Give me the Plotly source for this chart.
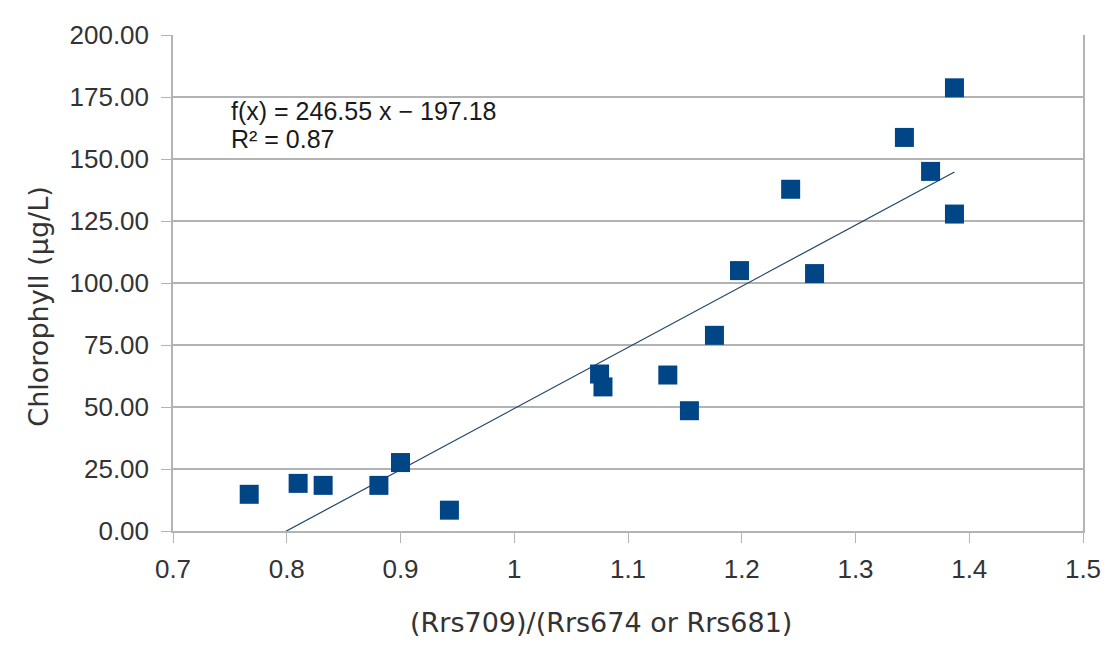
import plotly.graph_objects as go
import numpy as np

ratio = [0.767, 0.810, 0.832, 0.881, 0.900, 0.943, 1.075, 1.078, 1.135, 1.154,
         1.176, 1.198, 1.243, 1.264, 1.343, 1.366, 1.387, 1.387]
chl = [14.8, 19.2, 18.4, 18.4, 27.6, 8.4, 63.3, 58.1, 62.9, 48.5,
       78.9, 105.0, 137.8, 103.8, 158.7, 145.0, 178.7, 127.8]
slope = 246.55
intercept = -197.18
r2 = 0.87
x_ticks = [0.7, 0.8, 0.9, 1.0, 1.1, 1.2, 1.3, 1.4, 1.5]
x_tick_text = ["0.7", "0.8", "0.9", "1", "1.1", "1.2", "1.3", "1.4", "1.5"]
y_ticks = [0, 25, 50, 75, 100, 125, 150, 175, 200]

xs = np.linspace(min(ratio), max(ratio), 200)
ys = slope * xs + intercept

fig = go.Figure()
fig.add_trace(go.Scatter(x=xs, y=ys, mode="lines",
                         line=dict(color="#1f4468", width=1.2),
                         hoverinfo="skip", showlegend=False))
fig.add_trace(go.Scatter(x=ratio, y=chl, mode="markers",
                         marker=dict(symbol="square", size=19, color="#004586",
                                     line=dict(width=0)),
                         showlegend=False))

eq_font = dict(family="Liberation Sans, Arial", size=25, color="#1a1a1a")
fig.add_annotation(x=0.749, y=169.5, xref="x", yref="y", xanchor="left", yanchor="middle",
                   text=f"f(x) = {slope} x − {abs(intercept)}",
                   showarrow=False, font=eq_font)
fig.add_annotation(x=0.749, y=157.9, xref="x", yref="y", xanchor="left", yanchor="middle",
                   text=f"R² = {r2}", showarrow=False, font=eq_font)

title_font = dict(family="DejaVu Sans", size=27, color="#333333")
fig.add_annotation(x=0.4704, y=-0.1844, xref="paper", yref="paper",
                   xanchor="center", yanchor="middle",
                   text="(Rrs709)/(Rrs674 or Rrs681)", showarrow=False, font=title_font)
fig.add_annotation(x=-0.148, y=0.453, xref="paper", yref="paper",
                   xanchor="center", yanchor="middle", textangle=-90,
                   text="Chlorophyll (µg/L)", showarrow=False, font=title_font)

axis_font = dict(family="Liberation Sans, Arial", size=26, color="#333333")
fig.update_layout(
    width=1105, height=647,
    margin=dict(l=165, r=28, t=24, b=124),
    paper_bgcolor="white", plot_bgcolor="white",
    xaxis=dict(range=[0.7, 1.5], tickvals=x_ticks, ticktext=x_tick_text,
               showgrid=False, zeroline=False,
               showline=True, linecolor="#b3b3b3", linewidth=1.5,
               ticks="outside", ticklen=10, tickcolor="#b3b3b3",
               tickfont=axis_font, ticklabelstandoff=4),
    yaxis=dict(range=[0, 200], tickvals=y_ticks, tickformat=".2f",
               showgrid=True, gridcolor="#b3b3b3", gridwidth=1.5,
               zeroline=False,
               showline=True, mirror=True, linecolor="#b3b3b3", linewidth=1.5,
               ticks="outside", ticklen=10, tickcolor="#b3b3b3",
               tickfont=axis_font, ticklabelstandoff=7),
)
fig.write_html("out.html")
